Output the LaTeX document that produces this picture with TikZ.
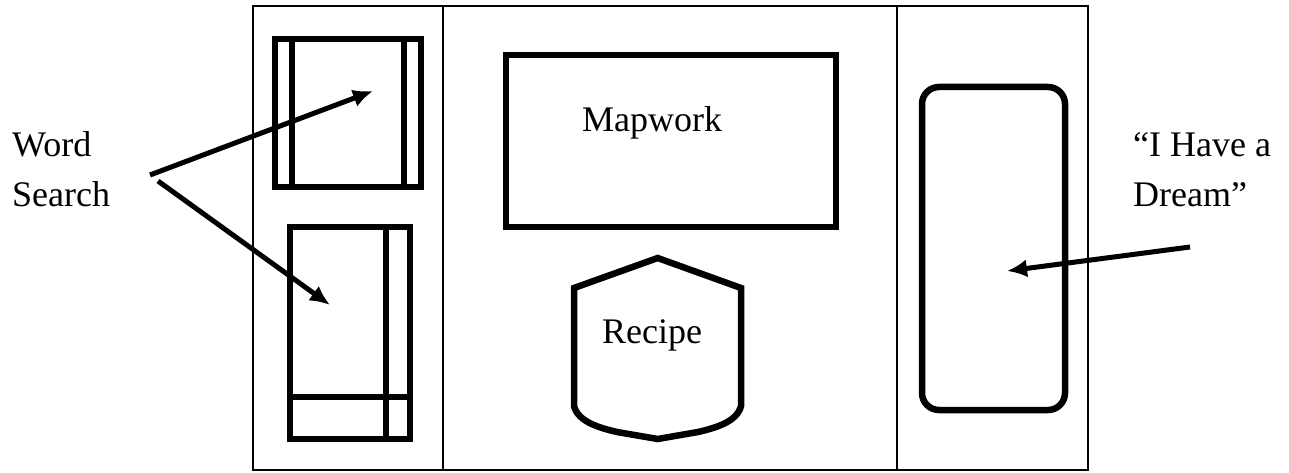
\documentclass[tikz,border=0pt]{standalone}
\usepackage{fontspec}
\setmainfont{Liberation Serif}
\usetikzlibrary{arrows.meta}
\begin{document}
\begin{tikzpicture}[x=1pt,y=-1pt,
  frame/.style={line width=2pt},
  heavy/.style={line width=6.5pt,line join=miter},
  pointer/.style={line width=5pt,-{Latex[length=20pt,width=18pt]}},
  lbl/.style={anchor=base west,inner sep=0pt,font=\fontsize{36}{44}\selectfont}]
\useasboundingbox (0,0) rectangle (1289,473);

% outer table and its three sections
\draw[frame] (253,6) rectangle (1088,470);
\draw[frame] (443,6) -- (443,470);
\draw[frame] (897,6) -- (897,470);

% left section: two word-search sheets
\draw[heavy] (275,39) rectangle (421,187);
\draw[heavy] (292,39) -- (292,187);
\draw[heavy] (404,39) -- (404,187);

\draw[heavy] (290,227) rectangle (410,439);
\draw[heavy] (386,227) -- (386,439);
\draw[heavy] (290,397) -- (410,397);

% middle section
\draw[heavy] (506,55) rectangle (836,227);
\node[lbl] (map) at (582,132) {Mapwork};

\draw[heavy] (657.7,258) -- (741,288) -- (741,406)
  .. controls (737,422) and (715,428) .. (698,432) -- (657.7,439)
  -- (617,432) .. controls (600,428) and (578,422) .. (574,406)
  -- (574,288) -- cycle;
\node[lbl] (recipe) at (602,343) {Recipe};

% right section
\draw[heavy,rounded corners=17pt] (922,87) rectangle (1065,410);

% labels
\node[lbl] (word) at (12,157) {Word};
\node[lbl] (search) at (12,206) {Search};
\node[lbl] (have) at (1133,157) {“I Have a};
\node[lbl] (dream) at (1133,206) {Dream”};

% arrow ends
\coordinate (wsA) at (150,175);
\coordinate (wsB) at (158,181);
\coordinate (sheetA) at (373,91);
\coordinate (sheetB) at (330,305);
\coordinate (speechFrom) at (1190,247);
\coordinate (speechTo) at (1007,271);

\draw[pointer] (wsA) -- (sheetA);
\draw[pointer] (wsB) -- (sheetB);
\draw[pointer] (speechFrom) -- (speechTo);
\end{tikzpicture}
\end{document}
